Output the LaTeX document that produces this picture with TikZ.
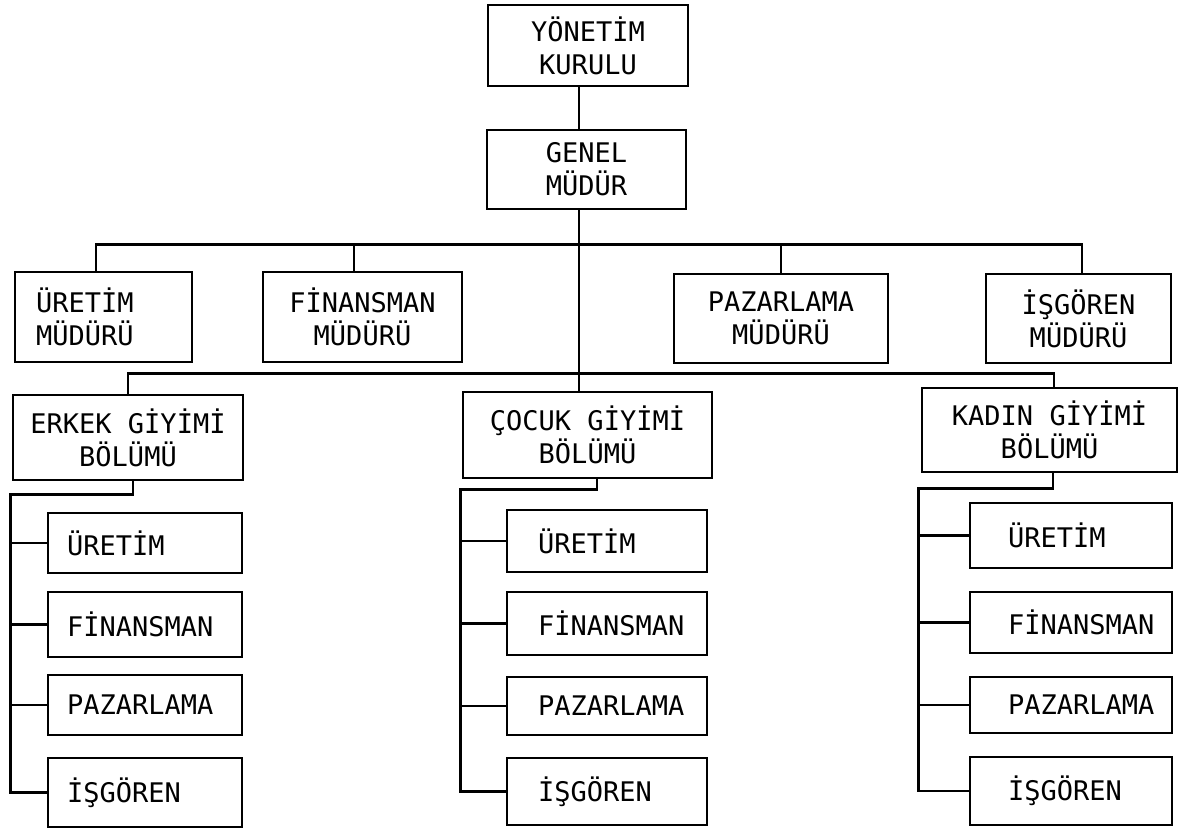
\documentclass[tikz,border=0pt]{standalone}
\usepackage{fontspec}
\newfontfamily\tw{DejaVu Sans Mono}
\begin{document}
\begin{tikzpicture}[x=1pt,y=-1pt,
  lw/.style={line width=2.6pt},
  txt/.style={font=\tw\fontsize{27}{33}\selectfont},
  box/.style={draw, lw, txt, inner sep=0pt, align=center},
  sub/.style={draw, lw, txt, inner sep=0pt, align=left},
  subE/.style={sub, text width=194pt, execute at begin node={\hspace*{19pt}}},
  subC/.style={sub, text width=200pt, execute at begin node={\hspace*{31pt}}},
  subK/.style={sub, text width=202pt, execute at begin node={\hspace*{38pt}}},
  conn/.style={lw}]
\fill[white] (0,0) rectangle (1180,828);
\useasboundingbox (0,0) rectangle (1180,828);

% top levels
\node[box, minimum width=200pt, minimum height=81pt] (yk) at (588,45.5) {YÖNETİM\\KURULU};
\node[box, minimum width=199pt, minimum height=79pt] (gm) at (586.5,169.5) {GENEL\\MÜDÜR};

% managers
\node[draw, lw, txt, align=left, text width=135pt, inner xsep=21pt, inner ysep=0pt, minimum height=90pt] (um) at (103.5,317) {ÜRETİM\\MÜDÜRÜ};
\node[box, minimum width=199pt, minimum height=90pt] (fm) at (362.5,317) {FİNANSMAN\\MÜDÜRÜ};
\node[box, minimum width=214pt, minimum height=89pt] (pm) at (781,318.5) {PAZARLAMA\\MÜDÜRÜ};
\node[box, minimum width=185pt, minimum height=89pt] (im) at (1078.5,318.5) {İŞGÖREN\\MÜDÜRÜ};

% divisions
\node[box, minimum width=230pt, minimum height=85pt] (erkek) at (128,437.5) {ERKEK GİYİMİ\\BÖLÜMÜ};
\node[box, minimum width=249pt, minimum height=86pt] (cocuk) at (587.5,435) {ÇOCUK GİYİMİ\\BÖLÜMÜ};
\node[box, minimum width=255pt, minimum height=84pt] (kadin) at (1049.5,430) {KADIN GİYİMİ\\BÖLÜMÜ};

% Erkek sub units
\node[subE, minimum height=60pt] (eU) at (145,543) {ÜRETİM};
\node[subE, minimum height=65pt] (eF) at (145,624.5) {FİNANSMAN};
\node[subE, minimum height=60pt] (eP) at (145,705) {PAZARLAMA};
\node[subE, minimum height=69pt] (eI) at (145,792.5) {İŞGÖREN};

% Cocuk sub units
\node[subC, minimum height=62pt] (cU) at (607,541) {ÜRETİM};
\node[subC, minimum height=63pt] (cF) at (607,623.5) {FİNANSMAN};
\node[subC, minimum height=58pt] (cP) at (607,706) {PAZARLAMA};
\node[subC, minimum height=67pt] (cI) at (607,791.5) {İŞGÖREN};

% Kadin sub units
\node[subK, minimum height=65pt] (kU) at (1071,535.5) {ÜRETİM};
\node[subK, minimum height=61pt] (kF) at (1071,622.5) {FİNANSMAN};
\node[subK, minimum height=56pt] (kP) at (1071,705) {PAZARLAMA};
\node[subK, minimum height=68pt] (kI) at (1071,791) {İŞGÖREN};

% connectors: top
\draw[conn] ([xshift=-9pt]yk.south) -- ([xshift=-9pt]yk.south |- gm.north);
\draw[conn] ([xshift=-7.5pt]gm.south) -- ([xshift=-7.5pt]gm.south |- cocuk.north);

% managers bus
\draw[conn] ([xshift=-7.5pt]um.north) -- ++(0,-26) coordinate (busM) -| ([xshift=3.5pt]im.north);
\draw[conn] ([xshift=-8.5pt]fm.north) -- ([xshift=-8.5pt]fm.north |- busM);
\draw[conn] (pm.north) -- (pm.north |- busM);

% divisions bus
\draw[conn] (erkek.north) -- ++(0,-20) coordinate (busD) -| ([xshift=4.5pt]kadin.north);

% Erkek tree
\draw[conn] ([xshift=5pt]erkek.south) -- ++(0,13) -| ([xshift=-36pt]eI.west) coordinate (railE) -- (eI.west);
\draw[conn] (railE |- eU.west) -- (eU.west);
\draw[conn] (railE |- eF.west) -- (eF.west);
\draw[conn] (railE |- eP.west) -- (eP.west);

% Cocuk tree
\draw[conn] ([xshift=9.5pt]cocuk.south) -- ++(0,10) -| ([xshift=-45pt]cI.west) coordinate (railC) -- (cI.west);
\draw[conn] (railC |- cU.west) -- (cU.west);
\draw[conn] (railC |- cF.west) -- (cF.west);
\draw[conn] (railC |- cP.west) -- (cP.west);

% Kadin tree
\draw[conn] ([xshift=3.5pt]kadin.south) -- ++(0,15) -| ([xshift=-50pt]kI.west) coordinate (railK) -- (kI.west);
\draw[conn] (railK |- kU.west) -- (kU.west);
\draw[conn] (railK |- kF.west) -- (kF.west);
\draw[conn] (railK |- kP.west) -- (kP.west);
\end{tikzpicture}
\end{document}
